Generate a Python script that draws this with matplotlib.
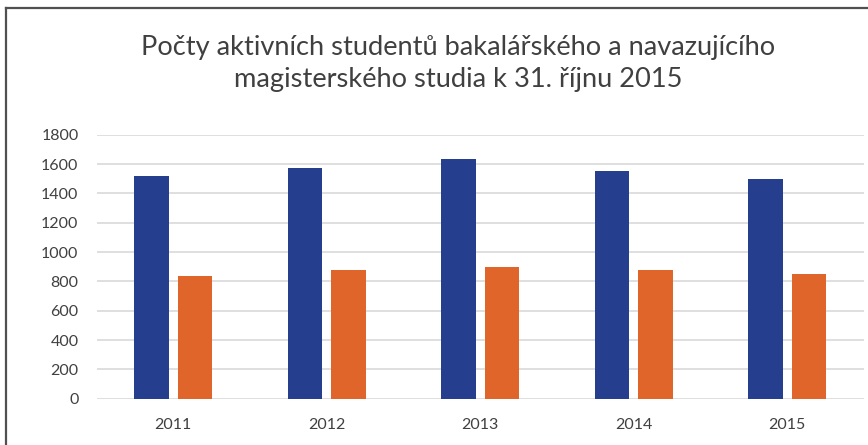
import numpy as np
import matplotlib
matplotlib.use('Agg')
import matplotlib.pyplot as plt
from matplotlib.lines import Line2D

# data
roky = ['2011', '2012', '2013', '2014', '2015']
bakalarske = [1518, 1570, 1634, 1550, 1498]
navazujici = [839, 875, 895, 880, 848]
y_ticks = [0, 200, 400, 600, 800, 1000, 1200, 1400, 1600, 1800]

BLUE = '#253F8E'
ORANGE = '#E0652A'
TEXT = '#404040'

plt.rcParams['font.family'] = ['Lato', 'DejaVu Sans']

fig = plt.figure(figsize=(8.68, 4.45), dpi=100)
ax = fig.add_axes([96.5 / 868, 1 - 398.7 / 445, (864 - 96.5) / 868, (398.7 - 134.7) / 445])

x = np.arange(len(roky))
w = 0.225
off = 0.143
ax.bar(x - off, bakalarske, width=w, color=BLUE, zorder=3)
ax.bar(x + off, navazujici, width=w, color=ORANGE, zorder=3)

ax.set_xlim(-0.5, len(roky) - 0.5)
ax.set_ylim(0, 1800)
ax.set_yticks(y_ticks)
ax.set_xticks(x)
ax.set_xticklabels(roky)
ax.tick_params(axis='both', length=0, labelsize=11.5, colors=TEXT)
ax.tick_params(axis='y', pad=13)
ax.tick_params(axis='x', pad=14)
ax.grid(axis='y', color='#D9D9D9', linewidth=1.2, zorder=0)
for s in ax.spines.values():
    s.set_visible(False)

# title is centred on the full (cropped) chart area, a bit right of the image centre
tx = 458 / 868
fig.text(tx, 1 - 47 / 445, 'Počty aktivních studentů bakalářského a navazujícího',
         ha='center', va='center', fontsize=19.6, color=TEXT)
fig.text(tx, 1 - 80 / 445, 'magisterského studia k 31. říjnu 2015',
         ha='center', va='center', fontsize=19.6, color=TEXT)

# outer chart border (right and bottom edges are cropped in the reference)
fig.add_artist(Line2D([6 / 868, 1], [1 - 8 / 445, 1 - 8 / 445], color='#505050', lw=1.6))
fig.add_artist(Line2D([6 / 868, 6 / 868], [0, 1 - 8 / 445], color='#505050', lw=1.6))

fig.savefig('out.png', dpi=100)
